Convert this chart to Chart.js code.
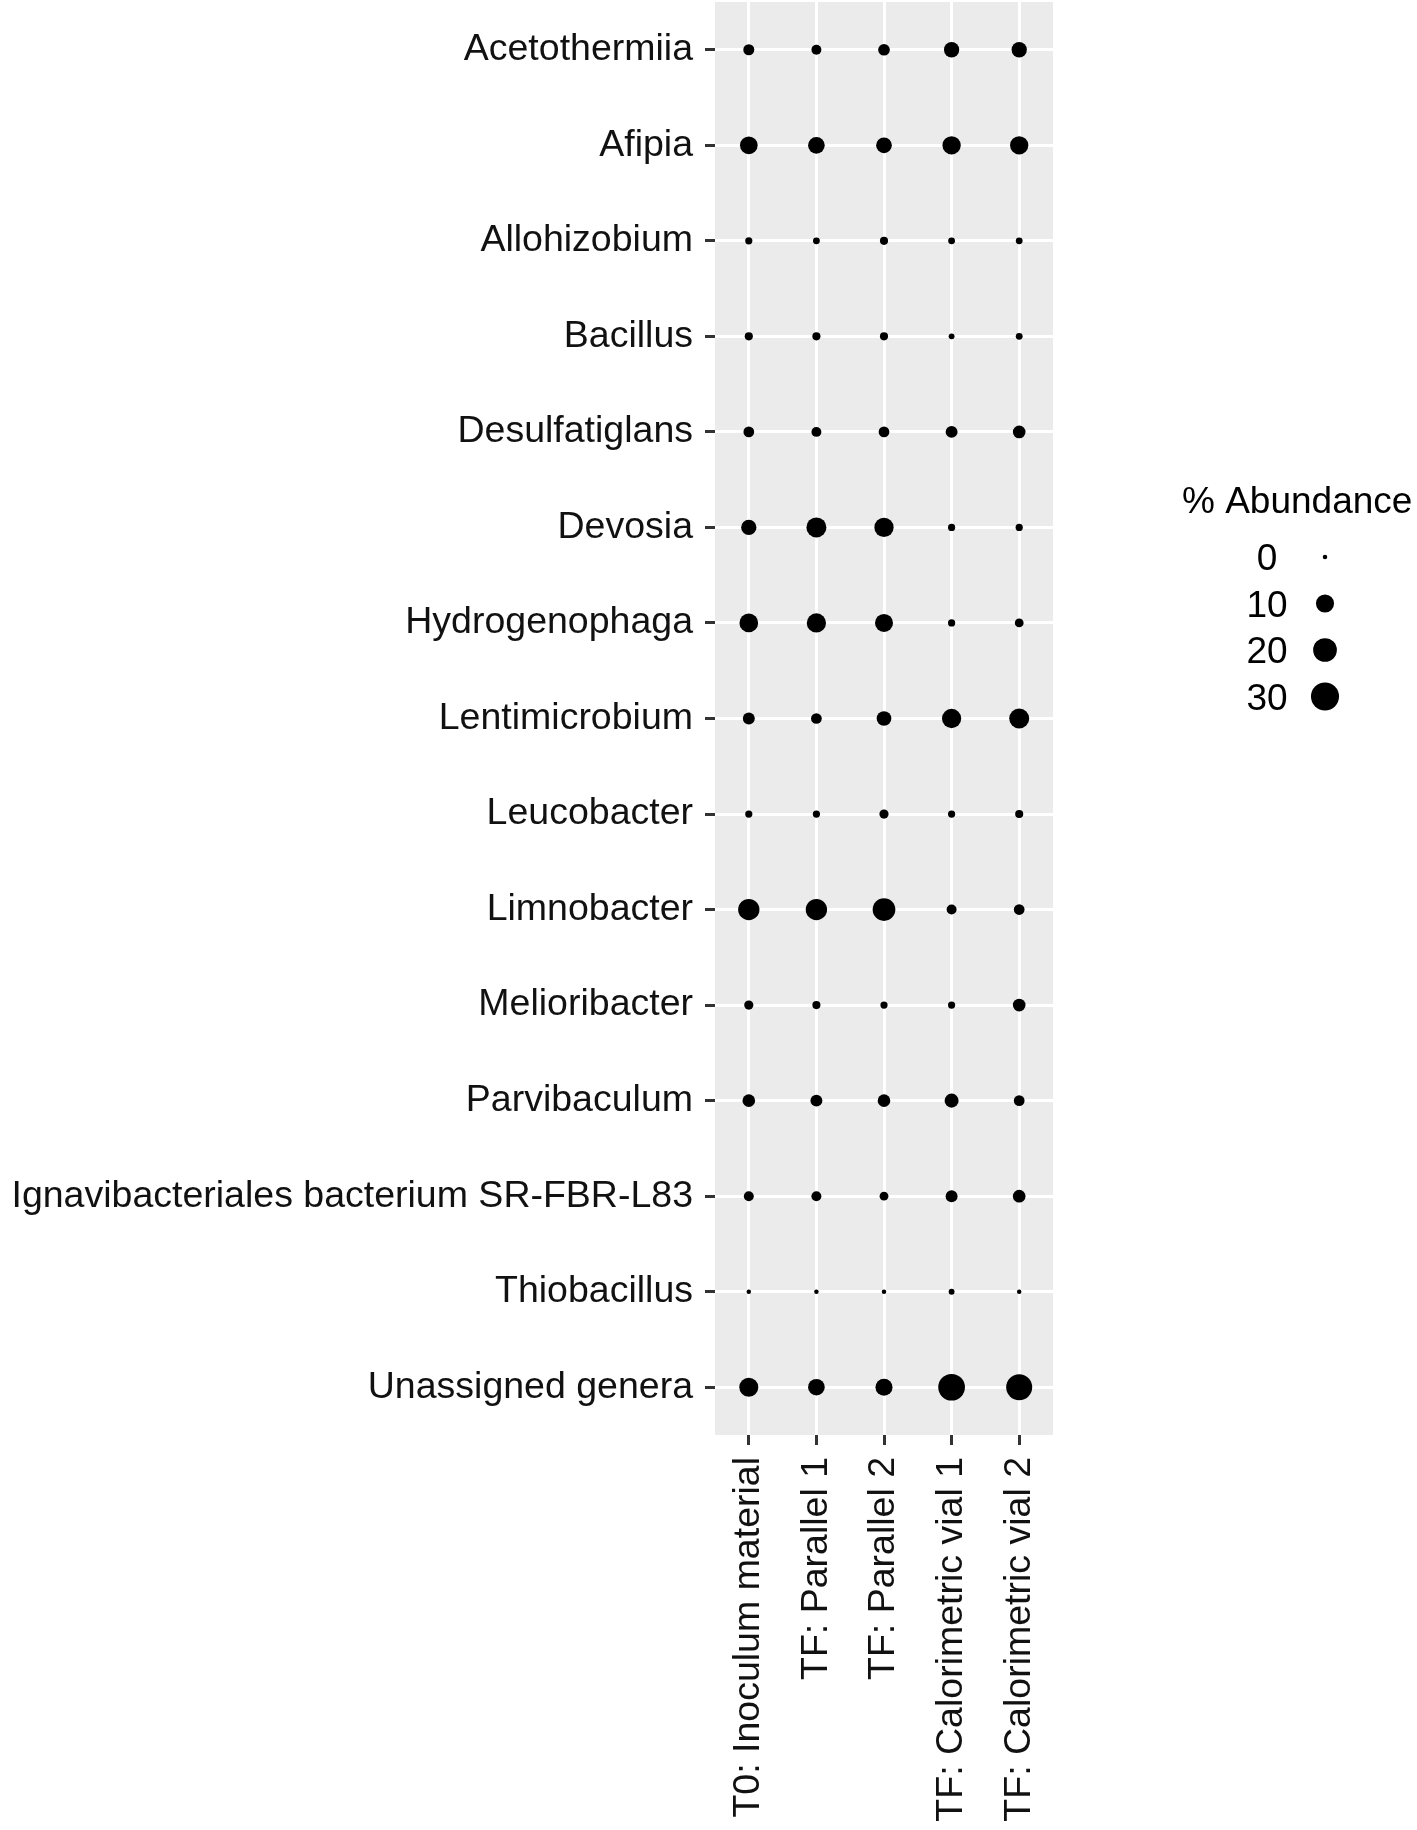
<!DOCTYPE html>
<html>
<head>
<meta charset="utf-8">
<title>% Abundance</title>
<script src="https://cdn.jsdelivr.net/npm/chart.js@4.4.0/dist/chart.umd.min.js"></script>
<style>
  html, body { margin: 0; padding: 0; background: #fff; }
  #grafico { display: block; }
</style>
</head>
<body>
<canvas id="grafico" width="1417" height="1830"></canvas>
<script>
const genera = [
  'Acetothermiia', 'Afipia', 'Allohizobium', 'Bacillus', 'Desulfatiglans',
  'Devosia', 'Hydrogenophaga', 'Lentimicrobium', 'Leucobacter', 'Limnobacter',
  'Melioribacter', 'Parvibaculum', 'Ignavibacteriales bacterium SR-FBR-L83',
  'Thiobacillus', 'Unassigned genera'
]
const samples = [
  'T0: Inoculum material', 'TF: Parallel 1', 'TF: Parallel 2',
  'TF: Calorimetric vial 1', 'TF: Calorimetric vial 2'
]

// % abundance per genus (same order as genera)
const inoculum  = [2.3, 9.4, 0.4, 0.7, 2.1, 6.3, 10.9, 3.0, 0.4, 15.3, 1.2, 3.6, 1.6, 0.0, 11.4]
const parallel1 = [1.6, 8.0, 0.3, 0.7, 1.6, 13.0, 11.8, 2.1, 0.4, 15.3, 0.7, 3.0, 1.6, 0.0, 8.0]
const parallel2 = [2.8, 6.8, 0.7, 0.7, 2.1, 11.8, 9.9, 5.6, 1.2, 17.9, 0.4, 3.6, 1.0, 0.0, 8.5]
const calVial1  = [6.3, 10.3, 0.3, 0.1, 3.0, 0.4, 0.4, 11.8, 0.4, 1.6, 0.4, 4.9, 3.0, 0.1, 26.6]
const calVial2  = [6.3, 10.3, 0.3, 0.3, 3.6, 0.4, 1.0, 13.0, 0.7, 2.1, 3.6, 2.1, 3.6, 0.0, 25.0]

const legendBreaks = [0, 10, 20, 30]

const series = [inoculum, parallel1, parallel2, calVial1, calVial2]

// area-style size scale: diameter grows with sqrt of abundance
const radio = (v) => (4.5 + 4.3 * Math.sqrt(Math.max(v, 0))) / 2

const FUENTE = '"Liberation Sans", Arial, Helvetica, sans-serif'

const fondoPanel = {
  id: 'fondoPanel',
  beforeDraw(chart) {
    const { ctx, chartArea: a } = chart
    ctx.save()
    ctx.fillStyle = '#ffffff'
    ctx.fillRect(0, 0, chart.width, chart.height)
    ctx.fillStyle = '#ebebeb'
    ctx.fillRect(a.left, a.top, a.right - a.left, a.bottom - a.top)
    ctx.restore()
  }
}

const leyendaTamanos = {
  id: 'leyendaTamanos',
  afterDraw(chart) {
    const ctx = chart.ctx
    ctx.save()
    ctx.fillStyle = '#000'
    ctx.font = '37px ' + FUENTE
    ctx.textAlign = 'left'
    ctx.textBaseline = 'alphabetic'
    ctx.fillText('% Abundance', 1182, 513)

    legendBreaks.forEach((b, i) => {
      const y = 557 + i * 46.5
      ctx.textAlign = 'center'
      ctx.textBaseline = 'middle'
      ctx.fillText(String(b), 1267, y + 3)
      ctx.beginPath()
      ctx.arc(1325, y, radio(b), 0, Math.PI * 2)
      ctx.fill()
    })
    ctx.restore()
  }
}

const datasets = series.map((valores, s) => ({
  label: samples[s],
  data: genera.map(g => ({ x: samples[s], y: g })),
  backgroundColor: '#000',
  borderWidth: 0,
  pointRadius: (c) => radio(valores[c.dataIndex]),
  pointHoverRadius: (c) => radio(valores[c.dataIndex])
}))

new Chart(document.getElementById('grafico'), {
  type: 'scatter',
  data: { datasets },
  plugins: [fondoPanel, leyendaTamanos],
  options: {
    responsive: false,
    devicePixelRatio: 1,
    animation: false,
    layout: { autoPadding: false, padding: { left: 0, top: 2, right: 364, bottom: 0 } },
    plugins: {
      legend: { display: false },
      tooltip: { enabled: false }
    },
    scales: {
      x: {
        type: 'category',
        labels: samples,
        offset: true,
        border: { display: false },
        grid: {
          color: '#ffffff',
          lineWidth: 3,
          tickColor: '#333333',
          tickWidth: 3,
          tickLength: 10
        },
        ticks: {
          color: '#111',
          font: { family: FUENTE, size: 37.5 },
          minRotation: 90,
          maxRotation: 90,
          padding: 12,
          autoSkip: false
        },
        afterFit: (scale) => {
          scale.height = 395
          scale.paddingLeft = 0
          scale.paddingRight = 0
        }
      },
      y: {
        type: 'category',
        labels: genera,
        offset: true,
        border: { display: false },
        grid: {
          color: '#ffffff',
          lineWidth: 3,
          tickColor: '#333333',
          tickWidth: 3,
          tickLength: 10
        },
        ticks: {
          color: '#111',
          font: { family: FUENTE, size: 37.5 },
          padding: 12,
          autoSkip: false
        },
        afterFit: (scale) => {
          scale.width = 715
          scale.paddingTop = 0
          scale.paddingBottom = 0
        }
      }
    }
  }
})
</script>
</body>
</html>
